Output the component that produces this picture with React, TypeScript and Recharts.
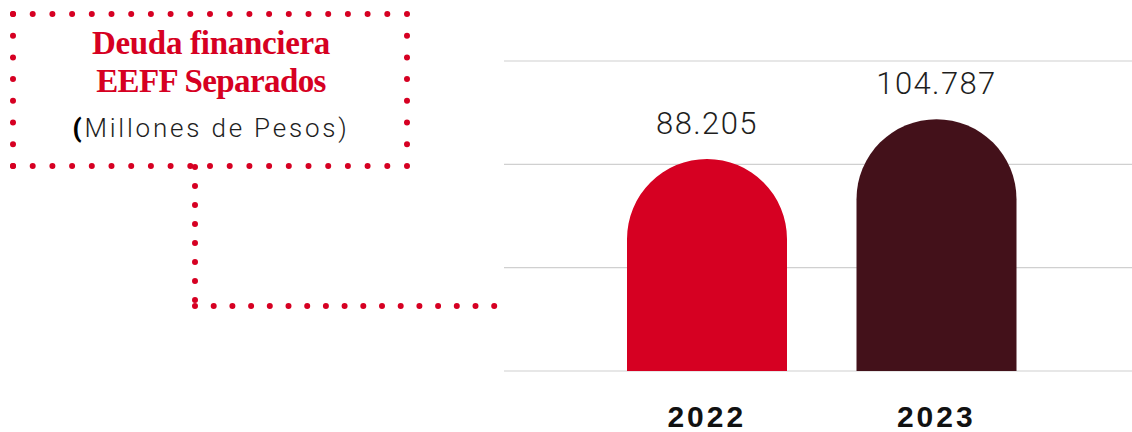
import { Bar, BarChart, CartesianGrid, Cell, LabelList, XAxis, YAxis } from "recharts";

const years = ["2022", "2023"];
const debt = [88205, 104787];
const barColors = ["#d60022", "#43111a"];
const gridTicks = [0, 43000, 86000, 129000];

const RED = "#d60022";

const chartData = years.map((year, i) => ({ year, value: debt[i] }));

// 88205 -> "88.205"
const formatValue = (v: number) => v.toLocaleString("de-DE");

const ValueLabel = (props: any) => {
  const { x, y, width, value } = props;
  return (
    <text
      x={x + width / 2}
      y={y - 25}
      textAnchor="middle"
      fill="#1e1e1e"
      fontFamily="Roboto"
      fontWeight={300}
      fontSize={31}
      letterSpacing={1.4}
    >
      {formatValue(value)}
    </text>
  );
};

const YearTick = (props: any) => {
  const { x, y, payload } = props;
  return (
    <text
      x={x}
      y={y + 48}
      textAnchor="middle"
      fill="#111"
      fontFamily="Liberation Sans"
      fontWeight={700}
      fontSize={30}
      letterSpacing={3}
    >
      {payload.value}
    </text>
  );
};

// dotted frame + connector around the title
function TitleBox() {
  const dot = { stroke: RED, strokeWidth: 6, strokeLinecap: "round" as const, fill: "none" };
  return (
    <svg width={1132} height={432} style={{ position: "absolute", left: 0, top: 0, pointerEvents: "none" }}>
      <line x1={13} y1={14} x2={407} y2={14} strokeDasharray="0 19.7" {...dot} />
      <line x1={13} y1={166} x2={407} y2={166} strokeDasharray="0 19.7" {...dot} />
      <line x1={13} y1={14} x2={13} y2={166} strokeDasharray="0 21.7" {...dot} />
      <line x1={407} y1={14} x2={407} y2={166} strokeDasharray="0 21.7" {...dot} />
      <line x1={195} y1={167} x2={195} y2={306} strokeDasharray="0 19" {...dot} />
      <line x1={195} y1={306} x2={500} y2={306} strokeDasharray="0 18.7" {...dot} />

      <text x={211} y={54} textAnchor="middle" fill={RED} fontFamily="Liberation Serif" fontWeight={700} fontSize={33} letterSpacing={-0.3}>
        Deuda financiera
      </text>
      <text x={211} y={92} textAnchor="middle" fill={RED} fontFamily="Liberation Serif" fontWeight={700} fontSize={33} letterSpacing={-0.6}>
        EEFF Separados
      </text>
      <text x={211} y={137} textAnchor="middle" fill="#1e1e1e" fontFamily="Roboto" fontWeight={300} fontSize={26} letterSpacing={2.8}>
        <tspan fontWeight={900} fill="#000">(</tspan>Millones de Pesos)
      </text>
    </svg>
  );
}

export default function App() {
  return (
    <div style={{ position: "fixed", left: 0, top: 0, width: 1132, height: 432, background: "#fff" }}>
      <BarChart
        width={1132}
        height={432}
        data={chartData}
        margin={{ top: 61, right: 0, bottom: 31, left: 504 }}
        barSize={160}
      >
        <CartesianGrid vertical={false} stroke="#d0d0d0" strokeWidth={1.2} />
        <YAxis hide domain={[0, 129000]} ticks={gridTicks} />
        <XAxis
          dataKey="year"
          axisLine={false}
          tickLine={false}
          height={30}
          padding={{ left: 88, right: 81 }}
          tick={<YearTick />}
          interval={0}
        />
        <Bar dataKey="value" radius={[80, 80, 0, 0]} isAnimationActive={false}>
          {chartData.map((d, i) => (
            <Cell key={d.year} fill={barColors[i]} />
          ))}
          <LabelList dataKey="value" content={<ValueLabel />} />
        </Bar>
      </BarChart>
      <TitleBox />
    </div>
  );
}
